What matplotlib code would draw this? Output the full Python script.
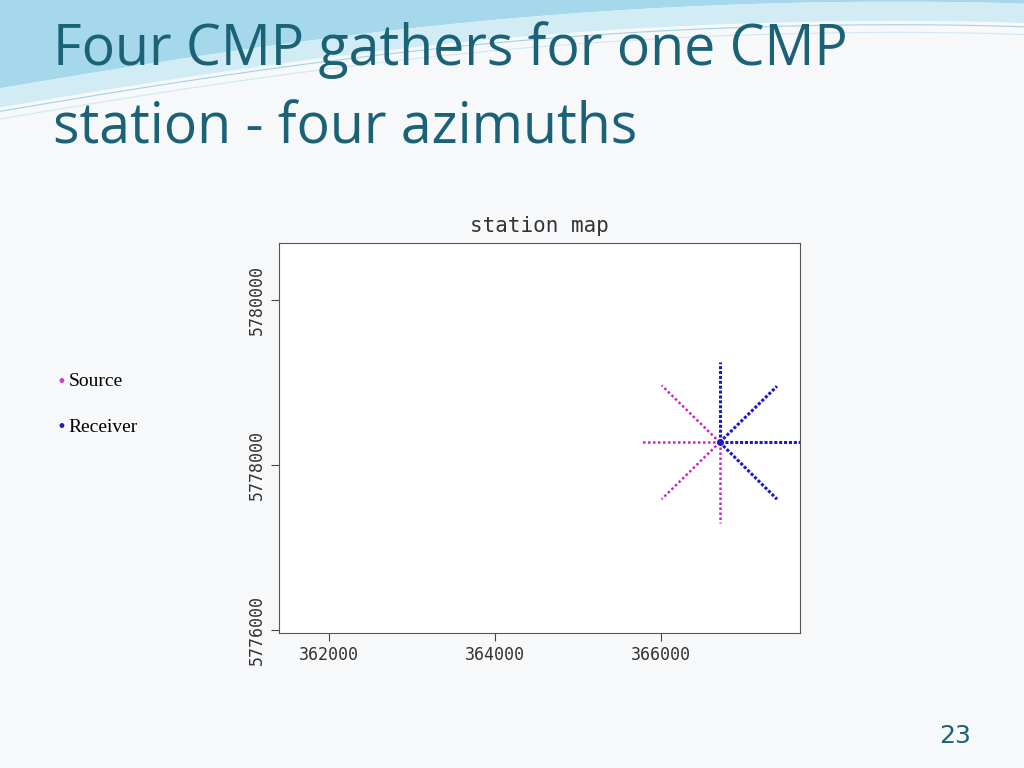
import numpy as np
import matplotlib.pyplot as plt

# station map: centre CMP and ends of each spread line (easting, northing)
centre = (366710, 5778270)
receiver_ends = [(366710, 5779240), (367400, 5778950), (367750, 5778270), (367400, 5777580)]
source_ends = [(365750, 5778270), (366010, 5778960), (366010, 5777580), (366710, 5777290)]

xticks = [362000, 364000, 366000]
yticks = [5776000, 5778000, 5780000]

fig = plt.figure(figsize=(10.24, 7.68), dpi=100)
fig.patch.set_facecolor("#f7f8fa")

# decorative header wave, lighter and mostly on the right
bg = fig.add_axes([0, 0, 1, 1], zorder=-1)
bg.set_xlim(0, 1)
bg.set_ylim(0, 1)
bg.axis("off")
xs = np.linspace(0, 1, 200)
top = np.ones_like(xs)
wave = 0.995 - 0.11 * (1 - xs) ** 1.5 + 0.02 * np.sin(np.pi * xs)
bg.fill_between(xs, wave, top, color="#8fd0e6", lw=0, alpha=0.8)
bg.fill_between(xs, wave - 0.025, wave, color="#d2ecf5", lw=0)
bg.plot(xs, wave - 0.03, color="#9fd3e6", lw=0.8)
bg.plot(xs, wave - 0.04, color="#cde9f3", lw=0.8)

fig.text(0.052, 0.935, "Four CMP gathers for one CMP", fontsize=40, color="#1b6277",
         family="Open Sans", va="center")
fig.text(0.052, 0.832, "station - four azimuths", fontsize=40, color="#1b6277",
         family="Open Sans", va="center")
fig.text(0.055, 0.503, "•", color="#d040c0", fontsize=12, va="center")
fig.text(0.067, 0.503, "Source", fontsize=14, family="Liberation Serif", va="center")
fig.text(0.055, 0.444, "•", color="#2020c0", fontsize=12, va="center")
fig.text(0.067, 0.444, "Receiver", fontsize=14, family="Liberation Serif", va="center")
fig.text(0.933, 0.042, "23", fontsize=18, color="#1b6277", ha="center", va="center")

ax = fig.add_axes([0.2725, 0.176, 0.509, 0.508])
ax.set_facecolor("white")
for x, y in source_ends:
    ax.plot([centre[0], x], [centre[1], y], ls=(0, (1, 1)), color="#cc22cc", lw=1.8)
for x, y in receiver_ends:
    ax.plot([centre[0], x], [centre[1], y], ls=(0, (1, 0.6)), color="#1a1acc", lw=2.2)
ax.plot(*centre, "o", color="#1a1acc", ms=4)
ax.set_xlim(361400, 367680)
ax.set_ylim(5775960, 5780690)
ax.set_xticks(xticks)
ax.set_xticklabels([str(v) for v in xticks], fontsize=12, family="DejaVu Sans Mono", color="#333333")
ax.set_yticks(yticks)
ax.set_yticklabels([str(v) for v in yticks], fontsize=12, family="DejaVu Sans Mono",
                   rotation=90, va="center", color="#333333")
ax.tick_params(length=6, color="#444444")
for s in ax.spines.values():
    s.set_color("#555555")
ax.set_title("station map", fontsize=15, family="DejaVu Sans Mono", pad=8, color="#333333")

fig.savefig("out.png", dpi=100, facecolor=fig.get_facecolor())
